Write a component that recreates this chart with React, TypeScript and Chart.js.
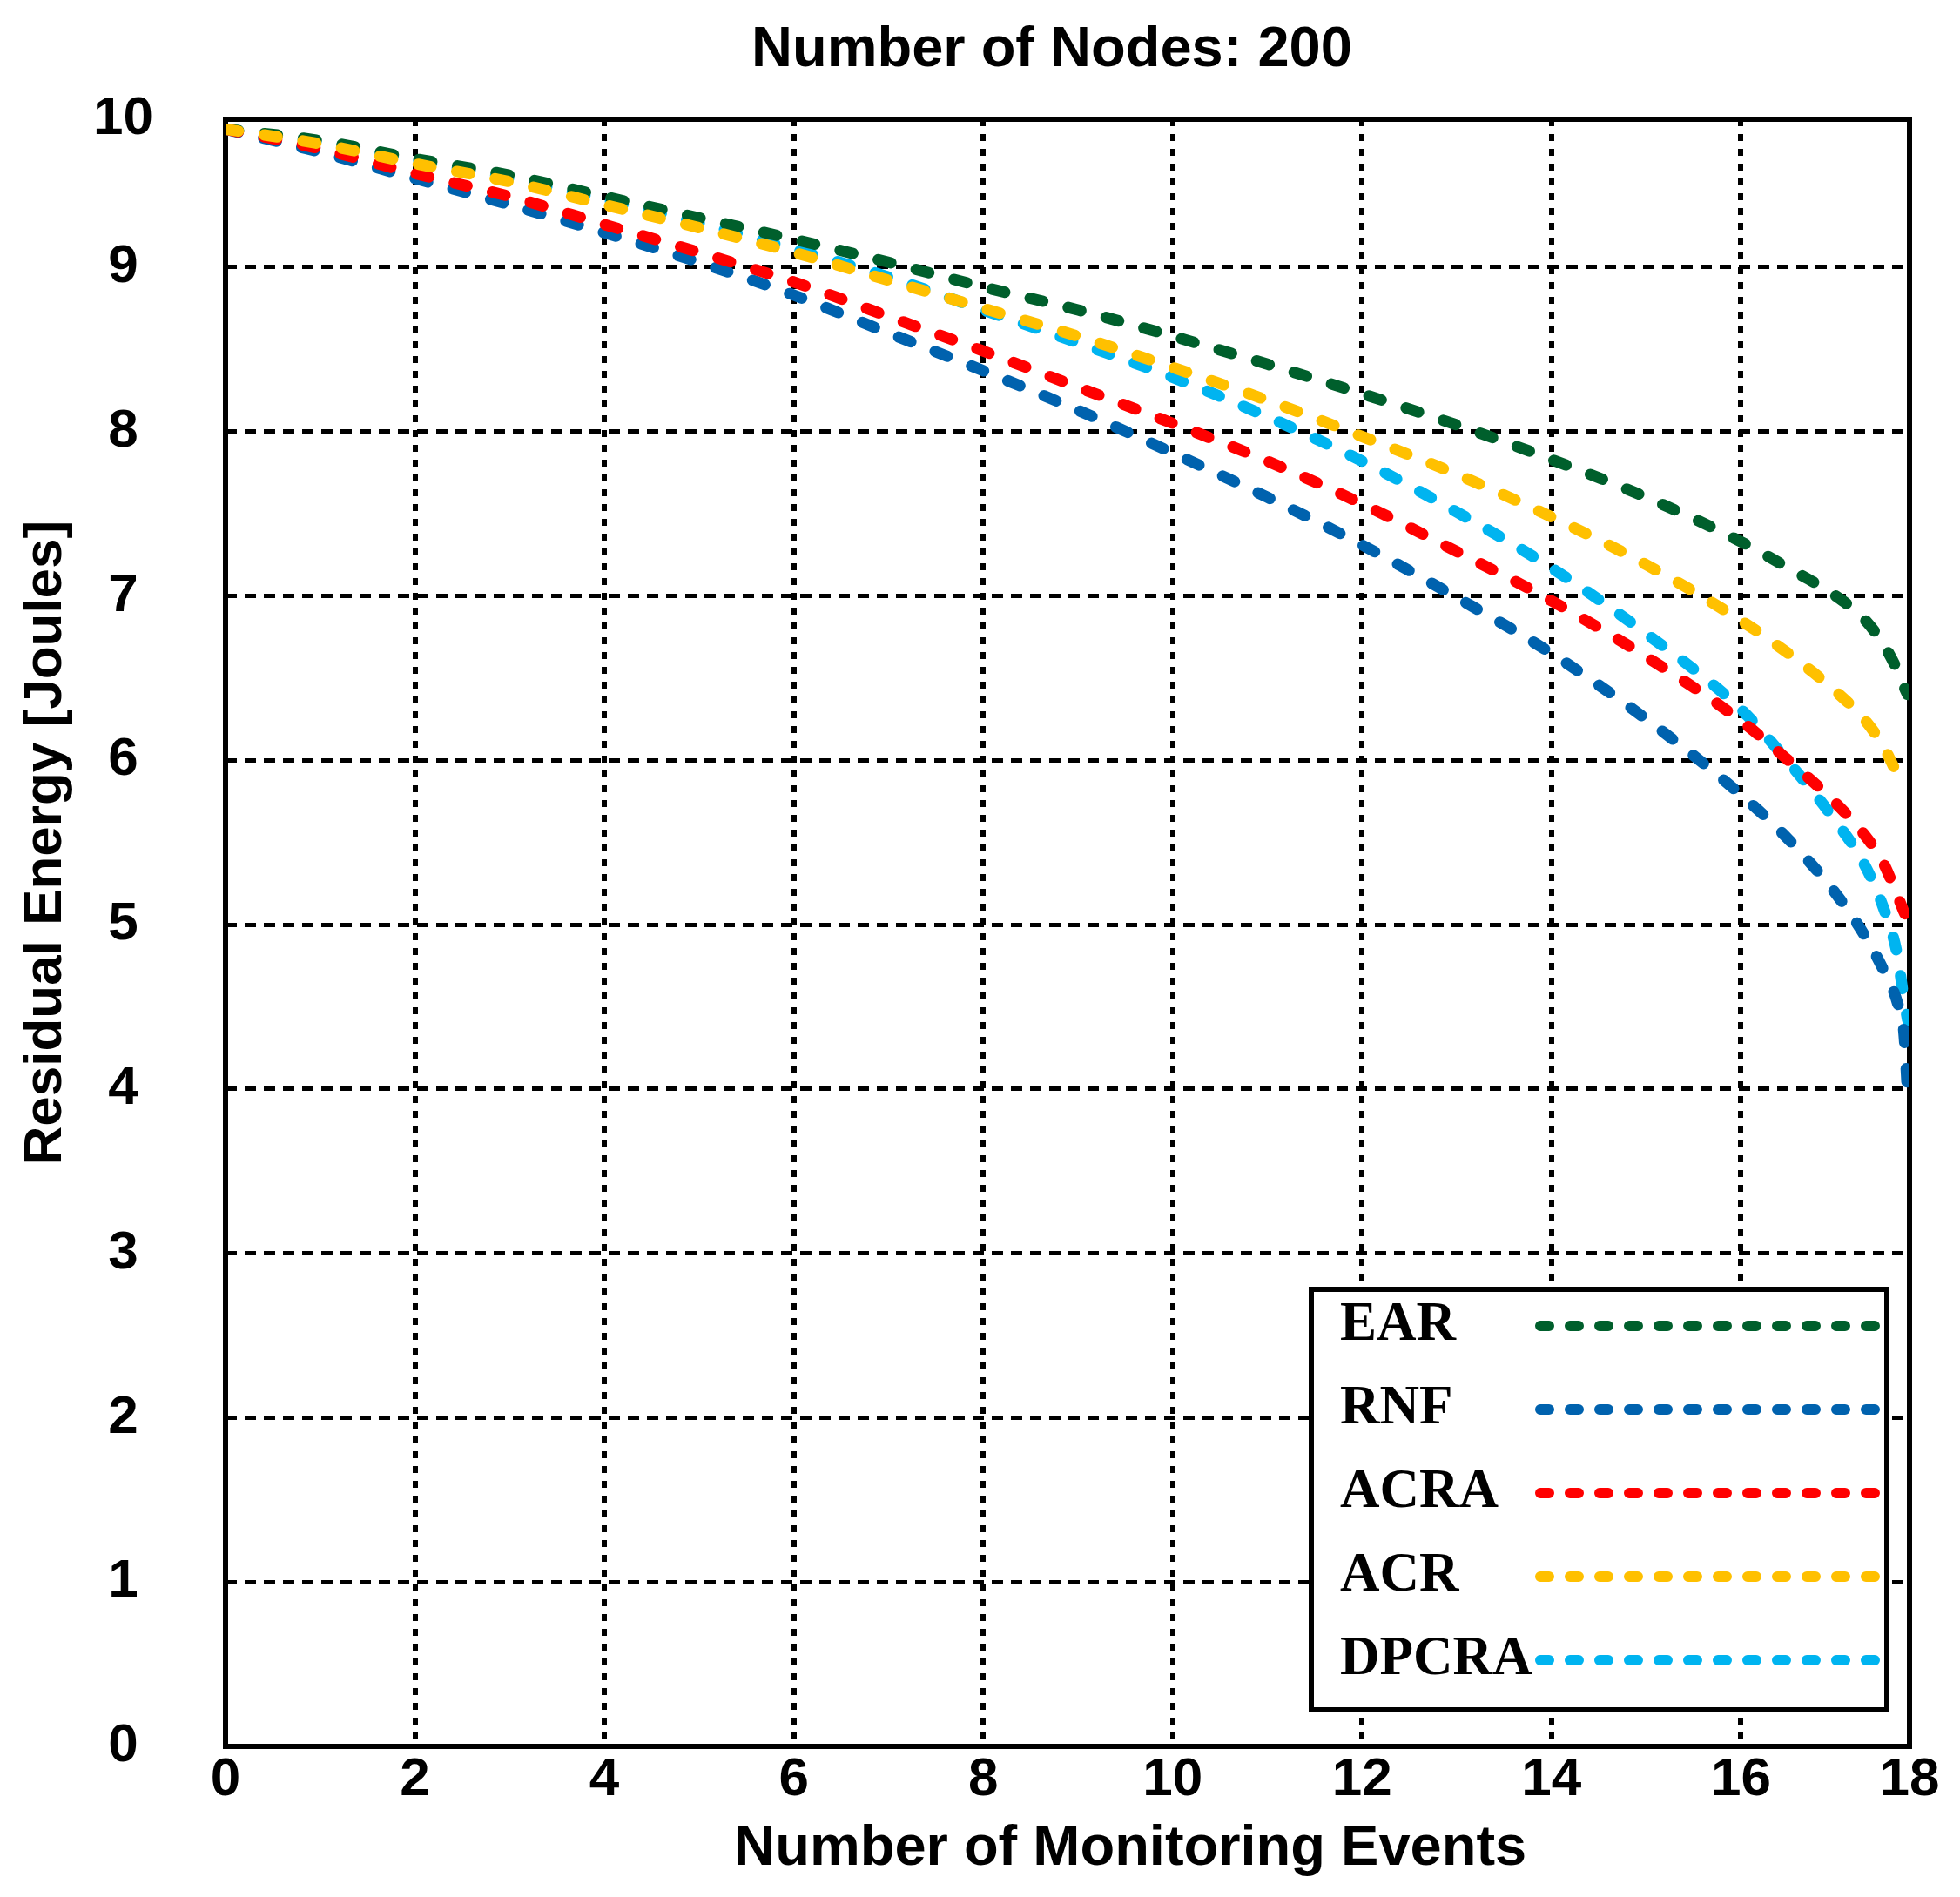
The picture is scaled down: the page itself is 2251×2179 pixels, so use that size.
import { useEffect, useRef } from 'react';
import { Chart, registerables } from 'chart.js';
import type { Plugin } from 'chart.js';

Chart.register(...registerables);

// number of monitoring events (x) shared by every series
const events = [0, 1, 2, 3, 4, 5, 6, 7, 8, 9, 10, 11, 12, 13, 14, 15, 16, 16.5, 17, 17.3, 17.5, 17.65, 17.72, 17.76];

// residual energy [J]
const ear = [9.84, 9.77, 9.66, 9.56, 9.43, 9.3, 9.17, 9.03, 8.88, 8.74, 8.58, 8.41, 8.23, 8.04, 7.83, 7.6, 7.33, 7.17, 7.0, 6.86, 6.71, 6.55, 6.45, 6.4];
const rnf = [9.84, 9.7, 9.54, 9.38, 9.21, 9.03, 8.83, 8.6, 8.37, 8.13, 7.87, 7.6, 7.31, 6.99, 6.65, 6.25, 5.79, 5.52, 5.19, 4.94, 4.73, 4.53, 4.35, 3.97];
const acra = [9.84, 9.72, 9.57, 9.43, 9.26, 9.09, 8.91, 8.7, 8.49, 8.27, 8.05, 7.82, 7.56, 7.27, 6.97, 6.63, 6.24, 6.0, 5.74, 5.55, 5.38, 5.18, 5.08, 5.03];
const acr = [9.84, 9.75, 9.63, 9.52, 9.38, 9.24, 9.09, 8.92, 8.75, 8.58, 8.39, 8.19, 7.97, 7.74, 7.48, 7.19, 6.85, 6.65, 6.42, 6.25, 6.09, 5.92, 5.86, 5.84];
const dpcra = [9.84, 9.76, 9.65, 9.54, 9.41, 9.27, 9.11, 8.94, 8.74, 8.54, 8.33, 8.09, 7.82, 7.51, 7.17, 6.77, 6.31, 5.99, 5.63, 5.37, 5.11, 4.82, 4.55, 4.42];

// axis ticks (the frame stops a little short of 18 and 10)
const xTickValues = [0, 2, 4, 6, 8, 10, 12, 14, 16, 17.78];
const xTickLabels = ['0', '2', '4', '6', '8', '10', '12', '14', '16', '18'];
const yTickValues = [0, 1, 2, 3, 4, 5, 6, 7, 8, 9, 9.9];
const yTickLabels = ['0', '1', '2', '3', '4', '5', '6', '7', '8', '9', '10'];

const SANS = '"Liberation Sans", Arial, sans-serif';
const SERIF = '"Liberation Serif", "Times New Roman", serif';
const NBSP = '\u00a0';

const framePlugin: Plugin<'line'> = {
  id: 'frame',
  beforeDatasetsDraw(chart) {
    const { ctx, chartArea } = chart;
    ctx.save();
    ctx.strokeStyle = '#000';
    ctx.lineWidth = 6;
    ctx.strokeRect(chartArea.left, chartArea.top, chartArea.right - chartArea.left, chartArea.bottom - chartArea.top);
    ctx.restore();
  },
};

// legend box in the lower right corner: label first, dashed sample after
const boxedLegend: Plugin<'line'> = {
  id: 'boxedLegend',
  afterDatasetsDraw(chart) {
    const { ctx, chartArea } = chart;
    const w = 661;
    const h = 483;
    const x0 = chartArea.right - 26 - w;
    const y0 = chartArea.bottom - 42 - h;
    ctx.save();
    ctx.fillStyle = '#fff';
    ctx.fillRect(x0, y0, w, h);
    ctx.lineWidth = 6;
    ctx.strokeStyle = '#000';
    ctx.strokeRect(x0, y0, w, h);
    ctx.font = `bold 63px ${SERIF}`;
    ctx.textBaseline = 'middle';
    ctx.textAlign = 'left';
    chart.data.datasets.forEach((ds, i) => {
      const y = y0 + 42 + i * 96;
      ctx.fillStyle = '#000';
      ctx.fillText(String(ds.label ?? ''), x0 + 33, y);
      ctx.beginPath();
      ctx.setLineDash([10, 24]);
      ctx.lineCap = 'round';
      ctx.lineWidth = 12;
      ctx.strokeStyle = ds.borderColor as string;
      ctx.moveTo(x0 + 263, y);
      ctx.lineTo(x0 + 648, y);
      ctx.stroke();
      ctx.setLineDash([]);
    });
    ctx.restore();
  },
};

function series(label: string, values: number[], color: string, order: number) {
  return {
    label,
    data: events.map((x, i) => ({ x, y: values[i] })),
    borderColor: color,
    backgroundColor: color,
    borderWidth: 13,
    borderDash: [15, 30],
    borderCapStyle: 'round' as const,
    pointRadius: 0,
    cubicInterpolationMode: 'monotone' as const,
    fill: false,
    order,
  };
}

const tickFont = { family: SANS, size: 62, weight: 'bold' as const, lineHeight: 1.2 };
const titleFont = { family: SANS, size: 65, weight: 'bold' as const, lineHeight: 1.2 };

export default function App() {
  const canvasRef = useRef<HTMLCanvasElement>(null);
  const chartInstance = useRef<Chart | null>(null);

  useEffect(() => {
    document.body.style.margin = '0';
    if (!canvasRef.current) return;
    if (chartInstance.current) chartInstance.current.destroy();

    chartInstance.current = new Chart(canvasRef.current, {
      type: 'line',
      data: {
        datasets: [
          series('EAR', ear, '#005F2C', 3),
          series('RNF', rnf, '#0062AE', 2),
          series('ACRA', acra, '#FF0000', 1),
          series('ACR', acr, '#FFC000', 0),
          series('DPCRA', dpcra, '#00B4F0', 4),
        ],
      },
      options: {
        animation: false,
        responsive: true,
        maintainAspectRatio: false,
        layout: { padding: { top: 0, right: 58, bottom: 0, left: 0 } },
        plugins: {
          legend: { display: false },
          tooltip: { enabled: false },
          title: {
            display: true,
            text: 'Number of Nodes: 200' + NBSP.repeat(2),
            fullSize: false,
            color: '#000',
            font: titleFont,
            padding: { top: 19, bottom: 40 },
          },
        },
        scales: {
          x: {
            type: 'linear',
            min: 0,
            max: 17.78,
            afterBuildTicks: (scale) => {
              scale.ticks = xTickValues.map((value) => ({ value }));
            },
            afterFit: (scale) => {
              scale.height = 173;
            },
            ticks: {
              autoSkip: false,
              maxRotation: 0,
              padding: 2,
              color: '#000',
              font: tickFont,
              callback: (_v, index) => xTickLabels[index],
            },
            grid: { color: '#000', lineWidth: 6, drawTicks: false },
            border: { display: false, dash: [8, 9] },
            title: {
              display: true,
              text: NBSP.repeat(8) + 'Number of Monitoring Events',
              color: '#000',
              font: titleFont,
              padding: { top: 0, bottom: 16 },
            },
          },
          y: {
            type: 'linear',
            min: 0,
            max: 9.9,
            afterBuildTicks: (scale) => {
              scale.ticks = yTickValues.map((value) => ({ value }));
            },
            afterFit: (scale) => {
              scale.width = 259;
            },
            ticks: {
              autoSkip: false,
              crossAlign: 'center',
              padding: 83,
              color: '#000',
              font: tickFont,
              callback: (_v, index) => yTickLabels[index],
            },
            grid: { color: '#000', lineWidth: 5, drawTicks: false },
            border: { display: false, dash: [13, 9] },
            title: {
              display: true,
              text: NBSP.repeat(12) + 'Residual Energy [Joules]',
              color: '#000',
              font: { family: SANS, size: 62, weight: 'bold', lineHeight: 1.2 },
              padding: { top: 16, bottom: 0 },
            },
          },
        },
      },
      plugins: [framePlugin, boxedLegend],
    });

    return () => {
      if (chartInstance.current) {
        chartInstance.current.destroy();
        chartInstance.current = null;
      }
    };
  }, []);

  return (
    <div style={{ width: '2251px', height: '2179px', position: 'relative', background: '#fff' }}>
      <canvas ref={canvasRef}></canvas>
    </div>
  );
}
